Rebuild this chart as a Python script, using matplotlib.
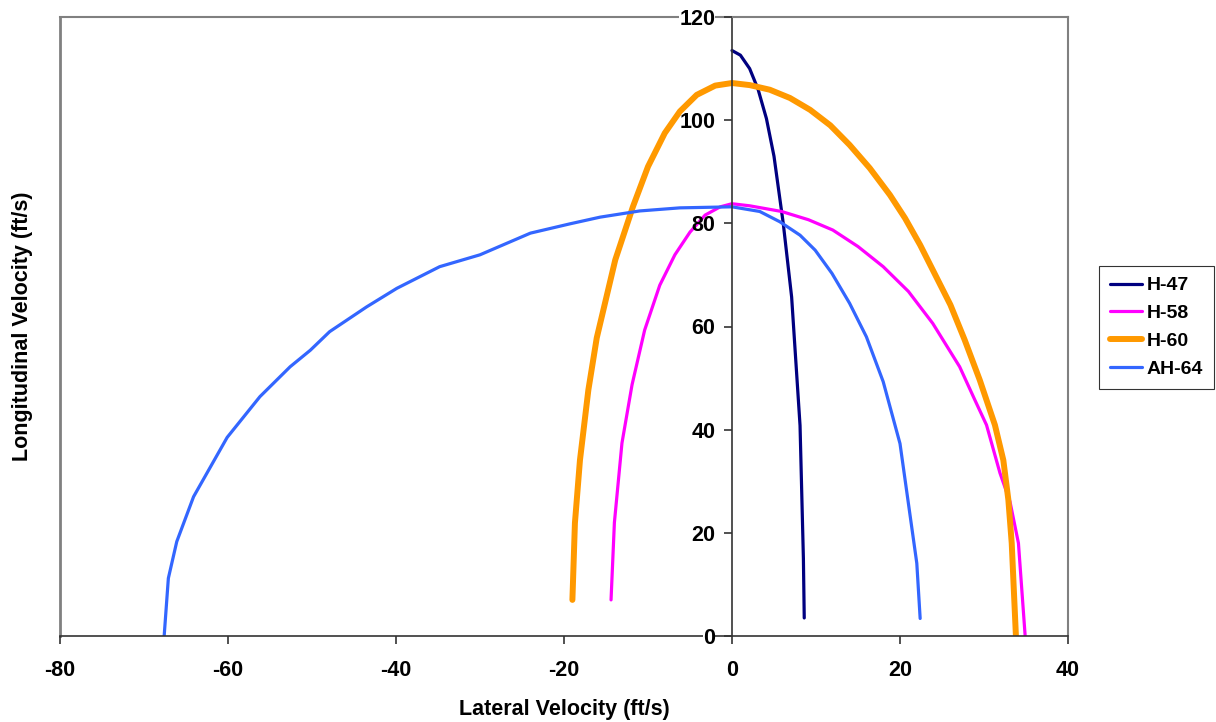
import matplotlib
matplotlib.use('Agg')
import matplotlib.pyplot as plt

plt.rcParams['font.family'] = ['Liberation Sans', 'DejaVu Sans']
plt.rcParams['font.weight'] = 'bold'
plt.rcParams['axes.unicode_minus'] = False

# lateral / longitudinal velocity envelopes (ft/s)
x47 = [0, 1.0, 2.1, 3.1, 4.1, 5.0, 6.1, 7.1, 8.1, 8.5, 8.6]
y47 = [113.5, 112.6, 110, 106, 100.3, 93, 80, 65.7, 40.8, 15, 3.5]

x58 = [-14.4, -14.0, -13.1, -11.9, -10.4, -8.6, -6.8, -5.0, -3.2, -1.4, 0, 2.1, 5.9, 9.1,
       12.0, 15.0, 18.0, 21.0, 23.9, 27.1, 28.9, 30.3, 31.9, 33.1, 34.1, 34.9]
y58 = [7, 22, 37.4, 48.7, 59.3, 68, 73.9, 78.3, 81.6, 83.2, 83.8, 83.4, 82.3, 80.7,
       78.7, 75.5, 71.6, 66.8, 60.6, 52.2, 45.8, 40.9, 31.6, 26, 18, 0]

x60 = [-19.0, -18.7, -18.1, -17.1, -16.1, -13.9, -11.8, -10.0, -8.0, -6.2, -4.2, -2.0, 0,
       2.1, 4.5, 6.9, 9.3, 11.7, 14.0, 16.4, 18.8, 20.6, 22.4, 24.2, 26.0, 27.7, 29.5,
       31.3, 32.3, 32.9, 33.3, 33.8]
y60 = [7, 21.9, 34.1, 47.7, 57.8, 72.9, 83.2, 91, 97.5, 101.7, 104.9, 106.7, 107.2,
       106.8, 105.9, 104.3, 102, 99, 95.2, 90.7, 85.5, 81, 75.8, 70, 64.2, 57.4, 49.6,
       40.9, 34.1, 26.4, 18, 0]

x64 = [-67.6, -67.1, -66.1, -64.1, -60.1, -56.2, -52.6, -50.2, -47.9, -43.5, -39.9, -34.8,
       -30, -24, -19.3, -15.7, -11, -6.2, 0, 3.3, 5.7, 8.1, 9.9, 11.9, 14.0, 16.0, 18.0,
       20.0, 22.0, 22.4]
y64 = [0, 11.2, 18.3, 27, 38.5, 46.4, 52.2, 55.4, 59, 63.8, 67.4, 71.6, 73.9, 78.1, 79.9,
       81.2, 82.4, 83, 83.2, 82.3, 80.3, 77.7, 74.8, 70.3, 64.5, 58, 49.3, 37.3, 14.1, 3.4]

fig = plt.figure(figsize=(12.16, 7.22), dpi=100)
ax = fig.add_axes([60/1216, 86/722, 1008/1216, 619/722])

ax.plot(x47, y47, color='#000080', lw=2.3, solid_capstyle='round', label='H-47')
ax.plot(x58, y58, color='#FF00FF', lw=2.3, solid_capstyle='round', label='H-58')
ax.plot(x60, y60, color='#FF9900', lw=4.3, solid_capstyle='round', label='H-60')
ax.plot(x64, y64, color='#3366FF', lw=2.3, solid_capstyle='round', label='AH-64')

ax.set_xlim(-80, 40)
ax.set_ylim(0, 120)
ax.set_xticks(range(-80, 41, 20))
ax.set_yticks(range(0, 121, 20))

# gray frame, black axis lines
for s in ['top', 'right']:
    ax.spines[s].set_color('#808080')
    ax.spines[s].set_linewidth(1.5)
ax.spines['bottom'].set_color('#333333')
ax.spines['bottom'].set_linewidth(1.2)
ax.spines['left'].set_position(('data', 0))
ax.spines['left'].set_color('#333333')
ax.spines['left'].set_linewidth(1.2)
ax.axvline(-80, color='#808080', lw=2, clip_on=False, zorder=0)

ax.tick_params(axis='both', direction='out', length=6, width=1.2, color='#333333',
               labelsize=15.5)
ax.tick_params(axis='x', pad=11)
ax.tick_params(axis='y', pad=6)

# the end labels sit on the frame lines; give them a white backing
ax.yaxis.set_zorder(3)
ylabels = ax.get_yticklabels()
for lbl in (ylabels[0], ylabels[-1]):
    lbl.set_bbox(dict(facecolor='white', edgecolor='none', pad=0))

ax.set_xlabel('Lateral Velocity (ft/s)', fontsize=15.5, fontweight='bold')
ax.set_ylabel('Longitudinal Velocity (ft/s)', fontsize=15.5, fontweight='bold')
ax.xaxis.set_label_coords(0.5, -0.102)
ax.yaxis.set_label_coords(-0.027, 0.5)

leg = ax.legend(loc='upper left', bbox_to_anchor=(1099/1216, 1 - 266/722),
                bbox_transform=fig.transFigure, fontsize=14, frameon=True,
                fancybox=False, edgecolor='black', handlelength=1.65,
                labelspacing=0.53, borderpad=0.55, borderaxespad=0,
                handletextpad=0.25)
leg.get_frame().set_linewidth(0.8)
for t in leg.get_texts():
    t.set_fontweight('bold')

fig.savefig('out.png', dpi=100)
